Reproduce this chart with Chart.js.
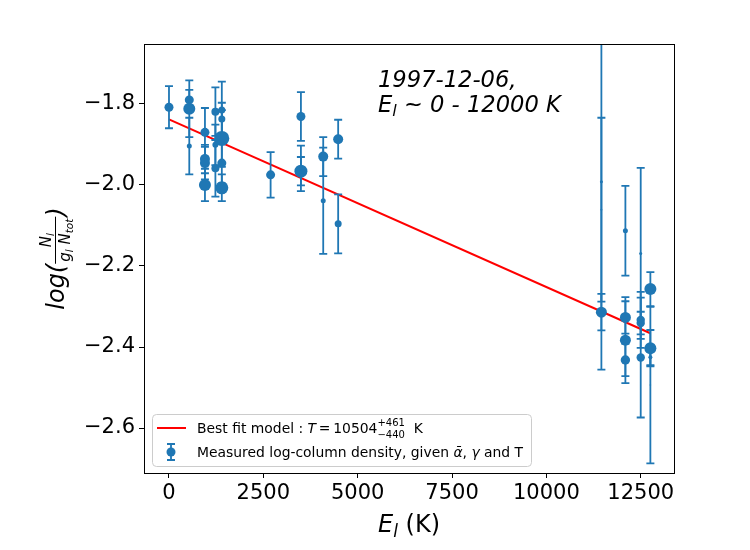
<!DOCTYPE html>
<html>
<head>
<meta charset="utf-8">
<script src="https://cdn.jsdelivr.net/npm/chart.js@4.4.0/dist/chart.umd.min.js"></script>
<style>
  html, body { margin: 0; padding: 0; background: #fff; }
  #wrap { width: 750px; height: 550px; }
</style>
</head>
<body>
<div id="wrap"><canvas id="mycanvas"></canvas></div>
<script>
// values
const energias = [0, 538, 538, 538, 953, 953, 953, 953, 1230, 1230, 1230, 1400, 1400, 1400, 1400, 1400,
  2693, 3496, 3496, 3496, 4087, 4087, 4483, 4483, 11458, 11458, 11458,
  12094, 12094, 12094, 12094, 12500, 12500, 12500, 12500, 12756, 12756, 12756, 12756];
const logN = [-1.808, -1.790, -1.812, -1.904, -1.870, -1.936, -1.946, -2.000, -1.819, -1.901, -1.959,
  -1.815, -1.837, -1.885, -1.946, -2.007, -1.975, -1.831, -1.966, -1.959, -1.930, -2.039, -1.887, -2.096,
  -2.314, -1.992, -2.061, -2.113, -2.327, -2.383, -2.432, -2.169, -2.333, -2.341, -2.426, -2.257, -2.403, -2.425, -2.494];
const errores = [0.052, 0.025, 0.07, 0.07, 0.06, 0.035, 0.04, 0.04, 0.06, 0.05, 0.07,
  0.07, 0.04, 0.07, 0.05, 0.033, 0.056, 0.06, 0.035, 0.056, 0.048, 0.131, 0.048, 0.073,
  0.045, 0.464, 0.227, 0.111, 0.04, 0.106, 0.04, 0.211, 0.069, 0.028, 0.148, 0.042, 0.045, 0.02, 0.193];
const tamanos = [4.5, 4.5, 6, 2.5, 4.5, 5, 5, 6, 4, 3, 4, 3.5, 3.5, 7.5, 4.5, 6.5, 4.5, 4.5, 6.5, 2, 5, 2.5, 5, 3.5,
  5.5, 1.5, 1, 2.5, 5.5, 5.5, 4.7, 1.5, 4.2, 4.2, 4.2, 6, 6, 2, 0.8];
const ajusteE = [0, 12756];
const ajusteLog = [-1.838, -2.366];
const xTicks = [0, 2500, 5000, 7500, 10000, 12500];
const yTicks = [-2.6, -2.4, -2.2, -2.0, -1.8];

const azul = '#1f77b4';
const fuente = "'DejaVu Sans'";

// draws a list of text pieces one after another, returns end x
function textoPartes(ctx, partes, x, y) {
  partes.forEach(function (p) {
    ctx.font = p.font;
    ctx.fillText(p.t, x, y + (p.dy || 0));
    x += ctx.measureText(p.t).width;
  });
  return x;
}
function anchoPartes(ctx, partes) {
  var w = 0;
  partes.forEach(function (p) { ctx.font = p.font; w += ctx.measureText(p.t).width; });
  return w;
}

function barra(ctx, px, top, bot, cap) {
  ctx.beginPath();
  ctx.moveTo(px, top); ctx.lineTo(px, bot);
  ctx.moveTo(px - cap, top); ctx.lineTo(px + cap, top);
  ctx.moveTo(px - cap, bot); ctx.lineTo(px + cap, bot);
  ctx.stroke();
}

const errorBars = {
  id: 'errorBars',
  beforeDatasetDraw(chart, args) {
    if (args.index !== 0) return;
    const ctx = chart.ctx, sx = chart.scales.x, sy = chart.scales.y, a = chart.chartArea;
    ctx.save();
    ctx.beginPath();
    ctx.rect(a.left, a.top, a.right - a.left, a.bottom - a.top);
    ctx.clip();
    ctx.strokeStyle = azul;
    ctx.lineWidth = 1.8;
    for (var i = 0; i < energias.length; i++) {
      var px = sx.getPixelForValue(energias[i]);
      barra(ctx, px, sy.getPixelForValue(logN[i] + errores[i]), sy.getPixelForValue(logN[i] - errores[i]), 4);
    }
    ctx.restore();
  }
};

const adornos = {
  id: 'adornos',
  afterDraw(chart) {
    const ctx = chart.ctx, a = chart.chartArea;
    ctx.save();
    // frame
    ctx.strokeStyle = '#000';
    ctx.lineWidth = 1;
    ctx.strokeRect(Math.round(a.left) + 0.5, Math.round(a.top) + 0.5, Math.round(a.right - a.left), Math.round(a.bottom - a.top));

    ctx.fillStyle = '#000';
    ctx.textBaseline = 'alphabetic';
    ctx.textAlign = 'left';

    // annotation top right
    var it = 'italic 22.6px ' + fuente;
    var itS = 'italic 16px ' + fuente;
    textoPartes(ctx, [{ t: '1997-12-06,', font: it }], 378, 87);
    textoPartes(ctx, [{ t: 'E', font: it }, { t: 'l', font: itS, dy: 4 }, { t: ' ~ 0 - 12000 K', font: it }], 378, 112);

    // x title
    var big = '24px ' + fuente, bigI = 'italic 24px ' + fuente, subI = 'italic 17px ' + fuente;
    var xt = [{ t: 'E', font: bigI }, { t: 'l', font: subI, dy: 5 }, { t: ' (K)', font: big }];
    textoPartes(ctx, xt, (a.left + a.right) / 2 - anchoPartes(ctx, xt) / 2, 532);

    // y title, rotated
    ctx.save();
    ctx.translate(64, (a.top + a.bottom) / 2);
    ctx.rotate(-Math.PI / 2);
    var fr = 'italic 15px ' + fuente, frS = 'italic 10.5px ' + fuente;
    var izq = [{ t: 'log(', font: bigI }];
    var num = [{ t: 'N', font: fr }, { t: 'l', font: frS, dy: 3 }];
    var den = [{ t: 'g', font: fr }, { t: 'l', font: frS, dy: 3 }, { t: ' N', font: fr }, { t: 'tot', font: frS, dy: 3 }];
    var der = [{ t: ')', font: bigI }];
    var wI = anchoPartes(ctx, izq), wN = anchoPartes(ctx, num), wD = anchoPartes(ctx, den), wR = anchoPartes(ctx, der);
    var wF = Math.max(wN, wD) + 4;
    var x0 = -(wI + wF + wR) / 2;
    textoPartes(ctx, izq, x0, 0);
    var xf = x0 + wI;
    textoPartes(ctx, num, xf + (wF - wN) / 2, -13);
    textoPartes(ctx, den, xf + (wF - wD) / 2, 6);
    ctx.lineWidth = 1;
    ctx.beginPath();
    ctx.moveTo(xf, -8.5); ctx.lineTo(xf + wF, -8.5);
    ctx.stroke();
    textoPartes(ctx, der, xf + wF, 0);
    ctx.restore();

    // legend
    ctx.fillStyle = 'rgba(255,255,255,0.8)';
    ctx.strokeStyle = '#cccccc';
    ctx.beginPath();
    ctx.roundRect(152.5, 414.5, 379, 52, 4);
    ctx.fill();
    ctx.stroke();

    ctx.strokeStyle = 'red';
    ctx.lineWidth = 2;
    ctx.beginPath();
    ctx.moveTo(157, 428); ctx.lineTo(186, 428);
    ctx.stroke();

    ctx.strokeStyle = azul;
    ctx.fillStyle = azul;
    ctx.lineWidth = 1.8;
    barra(ctx, 171, 444, 460, 4);
    ctx.beginPath();
    ctx.arc(171, 452, 4.5, 0, Math.PI * 2);
    ctx.fill();

    ctx.fillStyle = '#000';
    var lf = '13.9px ' + fuente, lfI = 'italic 13.9px ' + fuente, lfS = '10px ' + fuente;
    var x1 = textoPartes(ctx, [{ t: 'Best fit model : ', font: lf }, { t: 'T', font: lfI }, { t: '\u2009=\u2009', font: lf }, { t: '10504', font: lf }], 197, 433);
    ctx.font = lfS;
    ctx.fillText('+461', x1, 426);
    ctx.fillText('\u2212440', x1, 438);
    var wS = Math.max(ctx.measureText('+461').width, ctx.measureText('\u2212440').width);
    textoPartes(ctx, [{ t: '  K', font: lf }], x1 + wS, 433);
    textoPartes(ctx, [{ t: 'Measured log-column density, given ', font: lf }, { t: '\u03b1\u0304', font: lfI },
      { t: ', ', font: lf }, { t: '\u03b3', font: lfI }, { t: ' and T', font: lf }], 197, 457);
    ctx.restore();
  }
};

function fmtY(v) {
  return v.toFixed(1).replace('-', '\u2212');
}

var puntos = energias.map(function (e, i) { return { x: e, y: logN[i] }; });
var linea = ajusteE.map(function (e, i) { return { x: e, y: ajusteLog[i] }; });

const config = {
  type: 'scatter',
  data: {
    datasets: [
      {
        label: 'Measured log-column density',
        data: puntos,
        backgroundColor: azul,
        borderWidth: 0,
        pointRadius: tamanos,
        pointHoverRadius: tamanos
      },
      {
        label: 'Best fit model',
        data: linea,
        showLine: true,
        borderColor: 'red',
        borderWidth: 2,
        pointRadius: 0
      }
    ]
  },
  plugins: [errorBars, adornos],
  options: {
    responsive: true,
    maintainAspectRatio: false,
    animation: false,
    layout: { padding: { top: 44, right: 76, left: 0, bottom: 0 } },
    plugins: {
      legend: { display: false },
      tooltip: { enabled: false }
    },
    scales: {
      x: {
        type: 'linear',
        min: -662,
        max: 13382,
        afterBuildTicks: function (s) { s.ticks = xTicks.map(function (v) { return { value: v }; }); },
        afterFit: function (s) { s.height = 77; },
        grid: { display: true, drawOnChartArea: false, tickLength: 5, color: '#000' },
        border: { display: false },
        ticks: {
          color: '#000',
          font: { family: 'DejaVu Sans', size: 21 },
          padding: 3,
          maxRotation: 0,
          callback: function (v) { return String(v); }
        }
      },
      y: {
        type: 'linear',
        min: -2.711,
        max: -1.652,
        afterBuildTicks: function (s) { s.ticks = yTicks.map(function (v) { return { value: v }; }); },
        afterFit: function (s) { s.width = 144; },
        grid: { display: true, drawOnChartArea: false, tickLength: 5, color: '#000' },
        border: { display: false },
        ticks: {
          color: '#000',
          font: { family: 'DejaVu Sans', size: 21 },
          padding: 4,
          callback: function (v) { return fmtY(v); }
        }
      }
    }
  }
};

var myChart = new Chart(document.getElementById('mycanvas'), config);
</script>
</body>
</html>
